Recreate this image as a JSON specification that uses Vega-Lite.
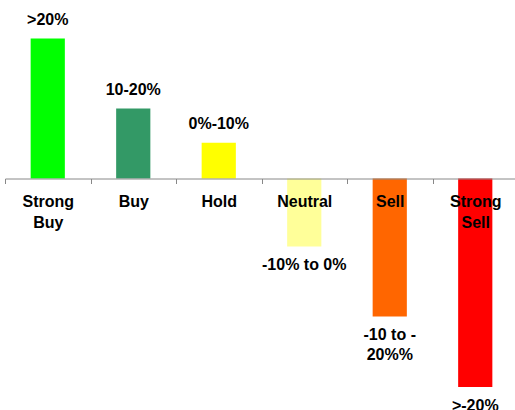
{
  "$schema": "https://vega.github.io/schema/vega-lite/v6.json",
  "width": 513,
  "height": 410,
  "autosize": {"type": "none"},
  "padding": {"left": 5, "top": 0, "right": 0, "bottom": 0},
  "background": "white",
  "config": {"view": {"stroke": null}, "font": "Liberation Sans"},
  "data": {
    "values": [
      {"rating": "Strong Buy", "value": 20, "label": ">20%", "color": "#00FF00"},
      {"rating": "Buy", "value": 10, "label": "10-20%", "color": "#339966"},
      {"rating": "Hold", "value": 5.1, "label": "0%-10%", "color": "#FFFF00"},
      {"rating": "Neutral", "value": -9.7, "label": "-10% to 0%", "color": "#FFFF99"},
      {"rating": "Sell", "value": -19.7, "label": "-10 to -\n20%%", "color": "#FF6600"},
      {"rating": "Strong Sell", "value": -29.8, "label": ">-20%", "color": "#FF0000"}
    ]
  },
  "encoding": {
    "x": {
      "field": "rating",
      "type": "nominal",
      "sort": null,
      "scale": {"paddingInner": 0, "paddingOuter": 0},
      "axis": {
        "title": null,
        "orient": "bottom",
        "offset": -231.5,
        "zindex": 1,
        "domainColor": "#888888",
        "domainWidth": 1,
        "tickColor": "#888888",
        "tickSize": 5,
        "tickBand": "extent",
        "labelAngle": 0,
        "labelFont": "Liberation Sans",
        "labelFontWeight": "bold",
        "labelFontSize": 16,
        "labelColor": "black",
        "labelPadding": 10,
        "labelLineHeight": 21,
        "labelExpr": "split(datum.label, ' ')"
      }
    },
    "y": {
      "field": "value",
      "type": "quantitative",
      "scale": {"domain": [-33.07, 25.5], "nice": false, "zero": true},
      "axis": null
    }
  },
  "layer": [
    {
      "mark": {"type": "bar", "width": {"band": 0.4}},
      "encoding": {"color": {"field": "color", "type": "nominal", "scale": null}}
    },
    {
      "transform": [{"filter": "datum.value > 0"}],
      "mark": {"type": "text", "baseline": "middle", "dy": -19, "fontSize": 16, "fontWeight": "bold", "font": "Liberation Sans", "color": "black"},
      "encoding": {"text": {"field": "label"}}
    },
    {
      "transform": [{"filter": "datum.value < 0"}],
      "mark": {"type": "text", "baseline": "middle", "dy": 19, "fontSize": 16, "fontWeight": "bold", "font": "Liberation Sans", "color": "black", "lineBreak": "\n", "lineHeight": 20},
      "encoding": {"text": {"field": "label"}}
    }
  ]
}
